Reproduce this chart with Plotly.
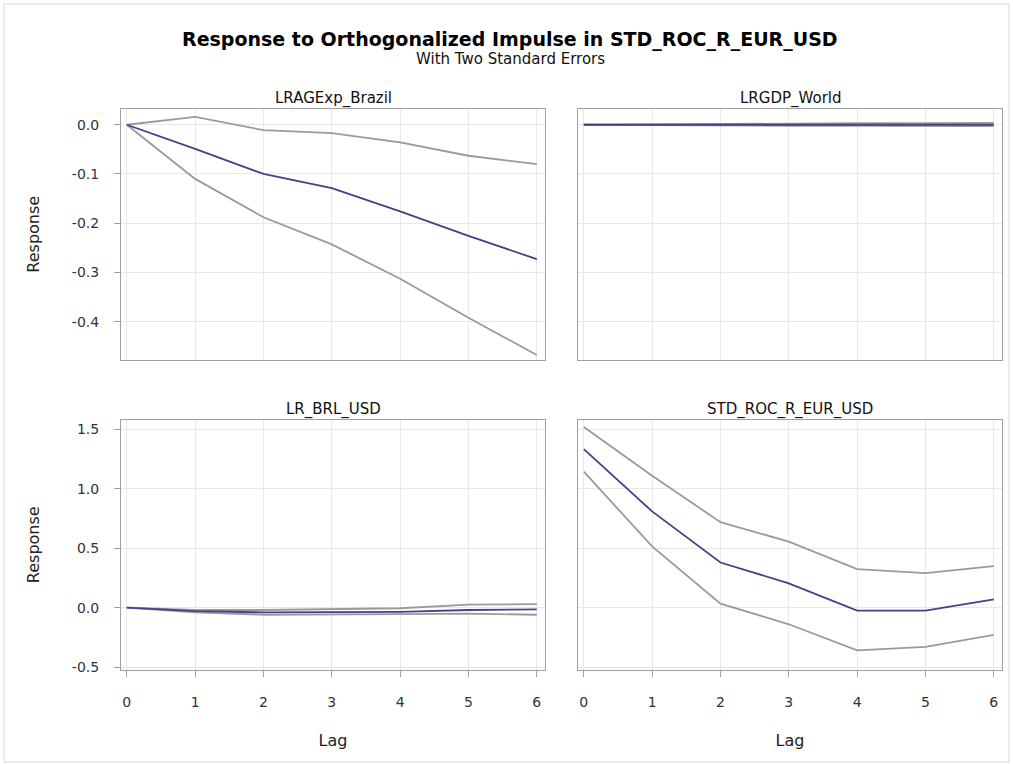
import plotly.graph_objects as go
from plotly.subplots import make_subplots

lags = [0, 1, 2, 3, 4, 5, 6]
panel_titles = ["LRAGExp_Brazil", "LRGDP_World", "LR_BRL_USD", "STD_ROC_R_EUR_USD"]

top_tickvals = [0.0, -0.1, -0.2, -0.3, -0.4]
top_ticktext = ["0.0", "-0.1", "-0.2", "-0.3", "-0.4"]
bottom_tickvals = [1.5, 1.0, 0.5, 0.0, -0.5]
bottom_ticktext = ["1.5", "1.0", "0.5", "0.0", "-0.5"]

# LRAGExp_Brazil
brazil_resp = [0.0, -0.049, -0.100, -0.129, -0.176, -0.226, -0.273]
brazil_upper = [0.0, 0.016, -0.011, -0.017, -0.036, -0.063, -0.080]
brazil_lower = [0.0, -0.110, -0.188, -0.243, -0.313, -0.392, -0.468]

# LRGDP_World
world_resp = [0.0, 0.0, 0.0, 0.0, 0.0, 0.0, 0.0]
world_upper = [0.0, 0.001, 0.002, 0.002, 0.003, 0.003, 0.004]
world_lower = [0.0, -0.001, -0.002, -0.002, -0.002, -0.003, -0.003]

# LR_BRL_USD
brl_resp = [0.0, -0.030, -0.040, -0.040, -0.035, -0.020, -0.015]
brl_upper = [0.0, -0.020, -0.020, -0.015, -0.005, 0.025, 0.030]
brl_lower = [0.0, -0.040, -0.060, -0.060, -0.055, -0.050, -0.060]

# STD_ROC_R_EUR_USD
eur_resp = [1.334, 0.810, 0.380, 0.205, -0.025, -0.025, 0.070]
eur_upper = [1.520, 1.110, 0.720, 0.555, 0.325, 0.290, 0.350]
eur_lower = [1.145, 0.515, 0.034, -0.140, -0.360, -0.330, -0.230]

panels = [
    (brazil_resp, brazil_upper, brazil_lower),
    (world_resp, world_upper, world_lower),
    (brl_resp, brl_upper, brl_lower),
    (eur_resp, eur_upper, eur_lower),
]

top_range = [-0.477, 0.032]
bottom_range = [-0.525, 1.584]
x_range = [-0.085, 6.12]

FONT = "DejaVu Sans, Liberation Sans, Arial, sans-serif"

fig = make_subplots(rows=2, cols=2, horizontal_spacing=33/881, vertical_spacing=60/561,
                    subplot_titles=panel_titles)

band_color = "#9a9a9a"
resp_color = "#3f4488"

for i, (resp, up, lo) in enumerate(panels):
    r = i // 2 + 1
    c = i % 2 + 1
    for ys, col, w in [(up, band_color, 1.8), (lo, band_color, 1.8), (resp, resp_color, 1.8)]:
        fig.add_trace(go.Scatter(x=lags, y=ys, mode="lines",
                                 line=dict(color=col, width=w), showlegend=False),
                      row=r, col=c)

axis_font = dict(family=FONT, size=14, color="#333333")

for r in (1, 2):
    for c in (1, 2):
        fig.update_xaxes(range=x_range, tickvals=lags, showgrid=True, gridcolor="#e8e8e8",
                         gridwidth=1, zeroline=False, showline=True, linecolor="#a0a0a0",
                         mirror=True, ticks="outside" if r == 2 else "", ticklen=6,
                         tickcolor="#a0a0a0", showticklabels=(r == 2),
                         ticklabelstandoff=13,
                         tickfont=axis_font, row=r, col=c)
        yr = top_range if r == 1 else bottom_range
        tv = top_tickvals if r == 1 else bottom_tickvals
        tt = top_ticktext if r == 1 else bottom_ticktext
        fig.update_yaxes(range=yr, showgrid=True, gridcolor="#e8e8e8", gridwidth=1,
                         zeroline=False, showline=True, linecolor="#a0a0a0", mirror=True,
                         ticks="outside" if c == 1 else "", ticklen=6, tickcolor="#a0a0a0",
                         showticklabels=(c == 1), tickfont=axis_font,
                         tickvals=tv, ticktext=tt, ticklabelstandoff=12,
                         row=r, col=c)

title_font = dict(family=FONT, size=16, color="#222")
for r in (1, 2):
    fig.update_yaxes(title_text="Response", title_font=title_font, title_standoff=28, row=r, col=1)
for c in (1, 2):
    fig.update_xaxes(title_text="Lag", title_font=title_font, title_standoff=26, row=2, col=c)

for ann in fig.layout.annotations:
    ann.font = dict(family=FONT, size=15, color="#111")
    ann.yshift = -1

def px_x(p):
    return (p - 121) / 881

def px_y(p):
    return (670 - p) / 561

fig.add_annotation(text="<b>Response to Orthogonalized Impulse in STD_ROC_R_EUR_USD</b>",
                   xref="paper", yref="paper", x=px_x(510), y=px_y(40), showarrow=False,
                   xanchor="center", yanchor="middle",
                   font=dict(family=FONT, size=19, color="#000"))
fig.add_annotation(text="With Two Standard Errors",
                   xref="paper", yref="paper", x=px_x(510), y=px_y(59), showarrow=False,
                   xanchor="center", yanchor="middle",
                   font=dict(family=FONT, size=15, color="#111"))

fig.add_shape(type="rect", xref="paper", yref="paper",
              x0=px_x(4), x1=px_x(1009), y0=px_y(762), y1=px_y(4),
              line=dict(color="#d8d8d8", width=1), fillcolor="rgba(0,0,0,0)")

fig.update_layout(width=1013, height=764, paper_bgcolor="white", plot_bgcolor="white",
                  margin=dict(l=121, r=11, t=109, b=94), showlegend=False)

fig.write_html("out.html", config={"displayModeBar": False},
               post_script="document.body.style.margin='0px';")
